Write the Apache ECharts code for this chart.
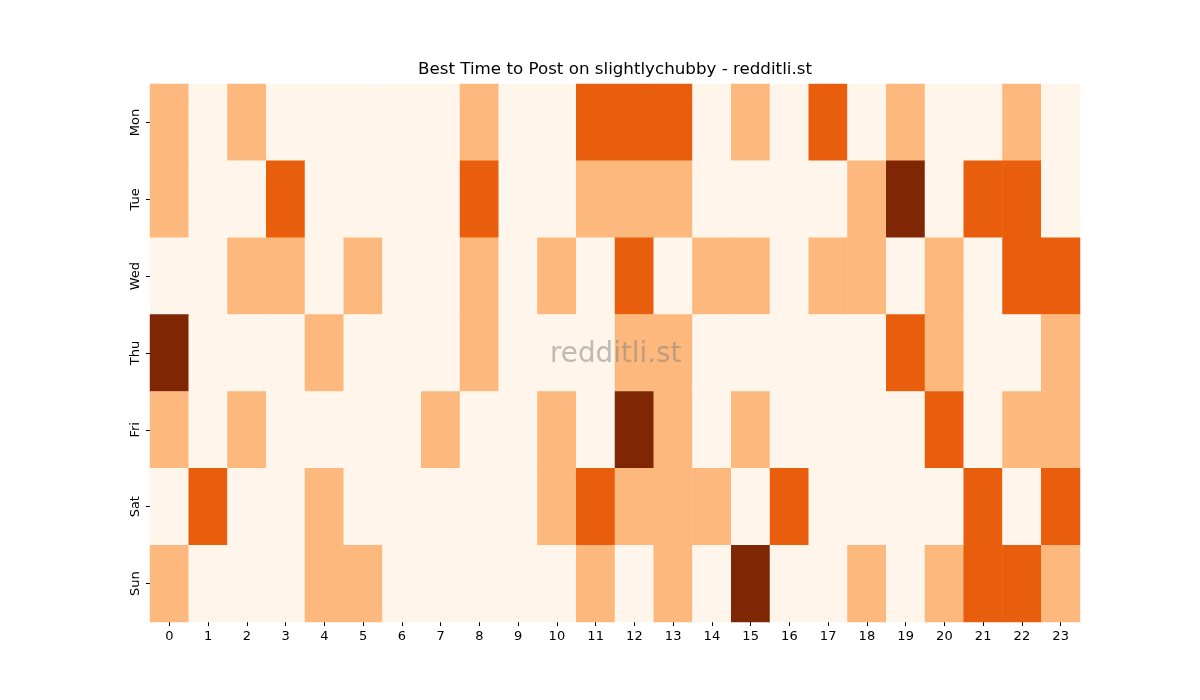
<!DOCTYPE html>
<html>
<head>
<meta charset="utf-8">
<script src="https://cdn.jsdelivr.net/npm/echarts@6/dist/echarts.min.js"></script>
<style>html,body{margin:0;padding:0;background:#fff;}#c{width:1200px;height:700px;}</style>
</head>
<body>
<div id="c"></div>
<script>
const hours = ['0','1','2','3','4','5','6','7','8','9','10','11','12','13','14','15','16','17','18','19','20','21','22','23'];
const days = ['Mon','Tue','Wed','Thu','Fri','Sat','Sun'];
const mon = [1,0,1,0,0,0,0,0,1,0,0,2,2,2,0,1,0,2,0,1,0,0,1,0];
const tue = [1,0,0,2,0,0,0,0,2,0,0,1,1,1,0,0,0,0,1,3,0,2,2,0];
const wed = [0,0,1,1,0,1,0,0,1,0,1,0,2,0,1,1,0,1,1,0,1,0,2,2];
const thu = [3,0,0,0,1,0,0,0,1,0,0,0,1,1,0,0,0,0,0,2,1,0,0,1];
const fri = [1,0,1,0,0,0,0,1,0,0,1,0,3,1,0,1,0,0,0,0,2,0,1,1];
const sat = [0,2,0,0,1,0,0,0,0,0,1,2,1,1,1,0,2,0,0,0,0,2,0,2];
const sun = [1,0,0,0,1,1,0,0,0,0,0,1,0,1,0,3,0,0,1,0,1,2,2,1];
const rows = [mon, tue, wed, thu, fri, sat, sun];
const data = [];
rows.forEach((r, yi) => r.forEach((v, xi) => data.push([xi, yi, v])));
const font = 'DejaVu Sans';
const chart = echarts.init(document.getElementById('c'));
chart.setOption({
  animation: false,
  backgroundColor: '#ffffff',
  title: {
    text: 'Best Time to Post on slightlychubby - redditli.st',
    left: 610, top: 56, textAlign: 'center',
    textStyle: {fontFamily: font, fontSize: 16.7, fontWeight: 'normal', color: '#000'}
  },
  grid: {left: 150, right: 120, top: 84, bottom: 78},
  xAxis: {
    type: 'category', data: hours,
    axisLine: {show: false},
    axisTick: {show: true, alignWithLabel: true, length: 4, lineStyle: {color: '#000'}},
    axisLabel: {fontFamily: font, fontSize: 13, color: '#000', margin: 8, interval: 0},
    splitLine: {show: false}
  },
  yAxis: {
    type: 'category', data: days, inverse: true,
    axisLine: {show: false},
    axisTick: {show: true, alignWithLabel: true, length: 4, lineStyle: {color: '#000'}},
    axisLabel: {fontFamily: font, fontSize: 13, color: '#000', rotate: 90, margin: 8, interval: 0},
    splitLine: {show: false}
  },
  visualMap: {
    type: 'piecewise', show: false, dimension: 2,
    pieces: [
      {value: 0, color: '#fff5eb'},
      {value: 1, color: '#fdb97d'},
      {value: 2, color: '#e95e0d'},
      {value: 3, color: '#7f2704'}
    ]
  },
  series: [{
    type: 'heatmap', data: data,
    itemStyle: {borderWidth: 0},
    emphasis: {disabled: true}
  }],
  graphic: [{
    type: 'text', left: 550, top: 341, z: 100,
    style: {text: 'redditli.st', fontFamily: font, fontSize: 27.8, fill: 'rgba(128,128,128,0.5)'}
  }]
});
</script>
</body>
</html>
